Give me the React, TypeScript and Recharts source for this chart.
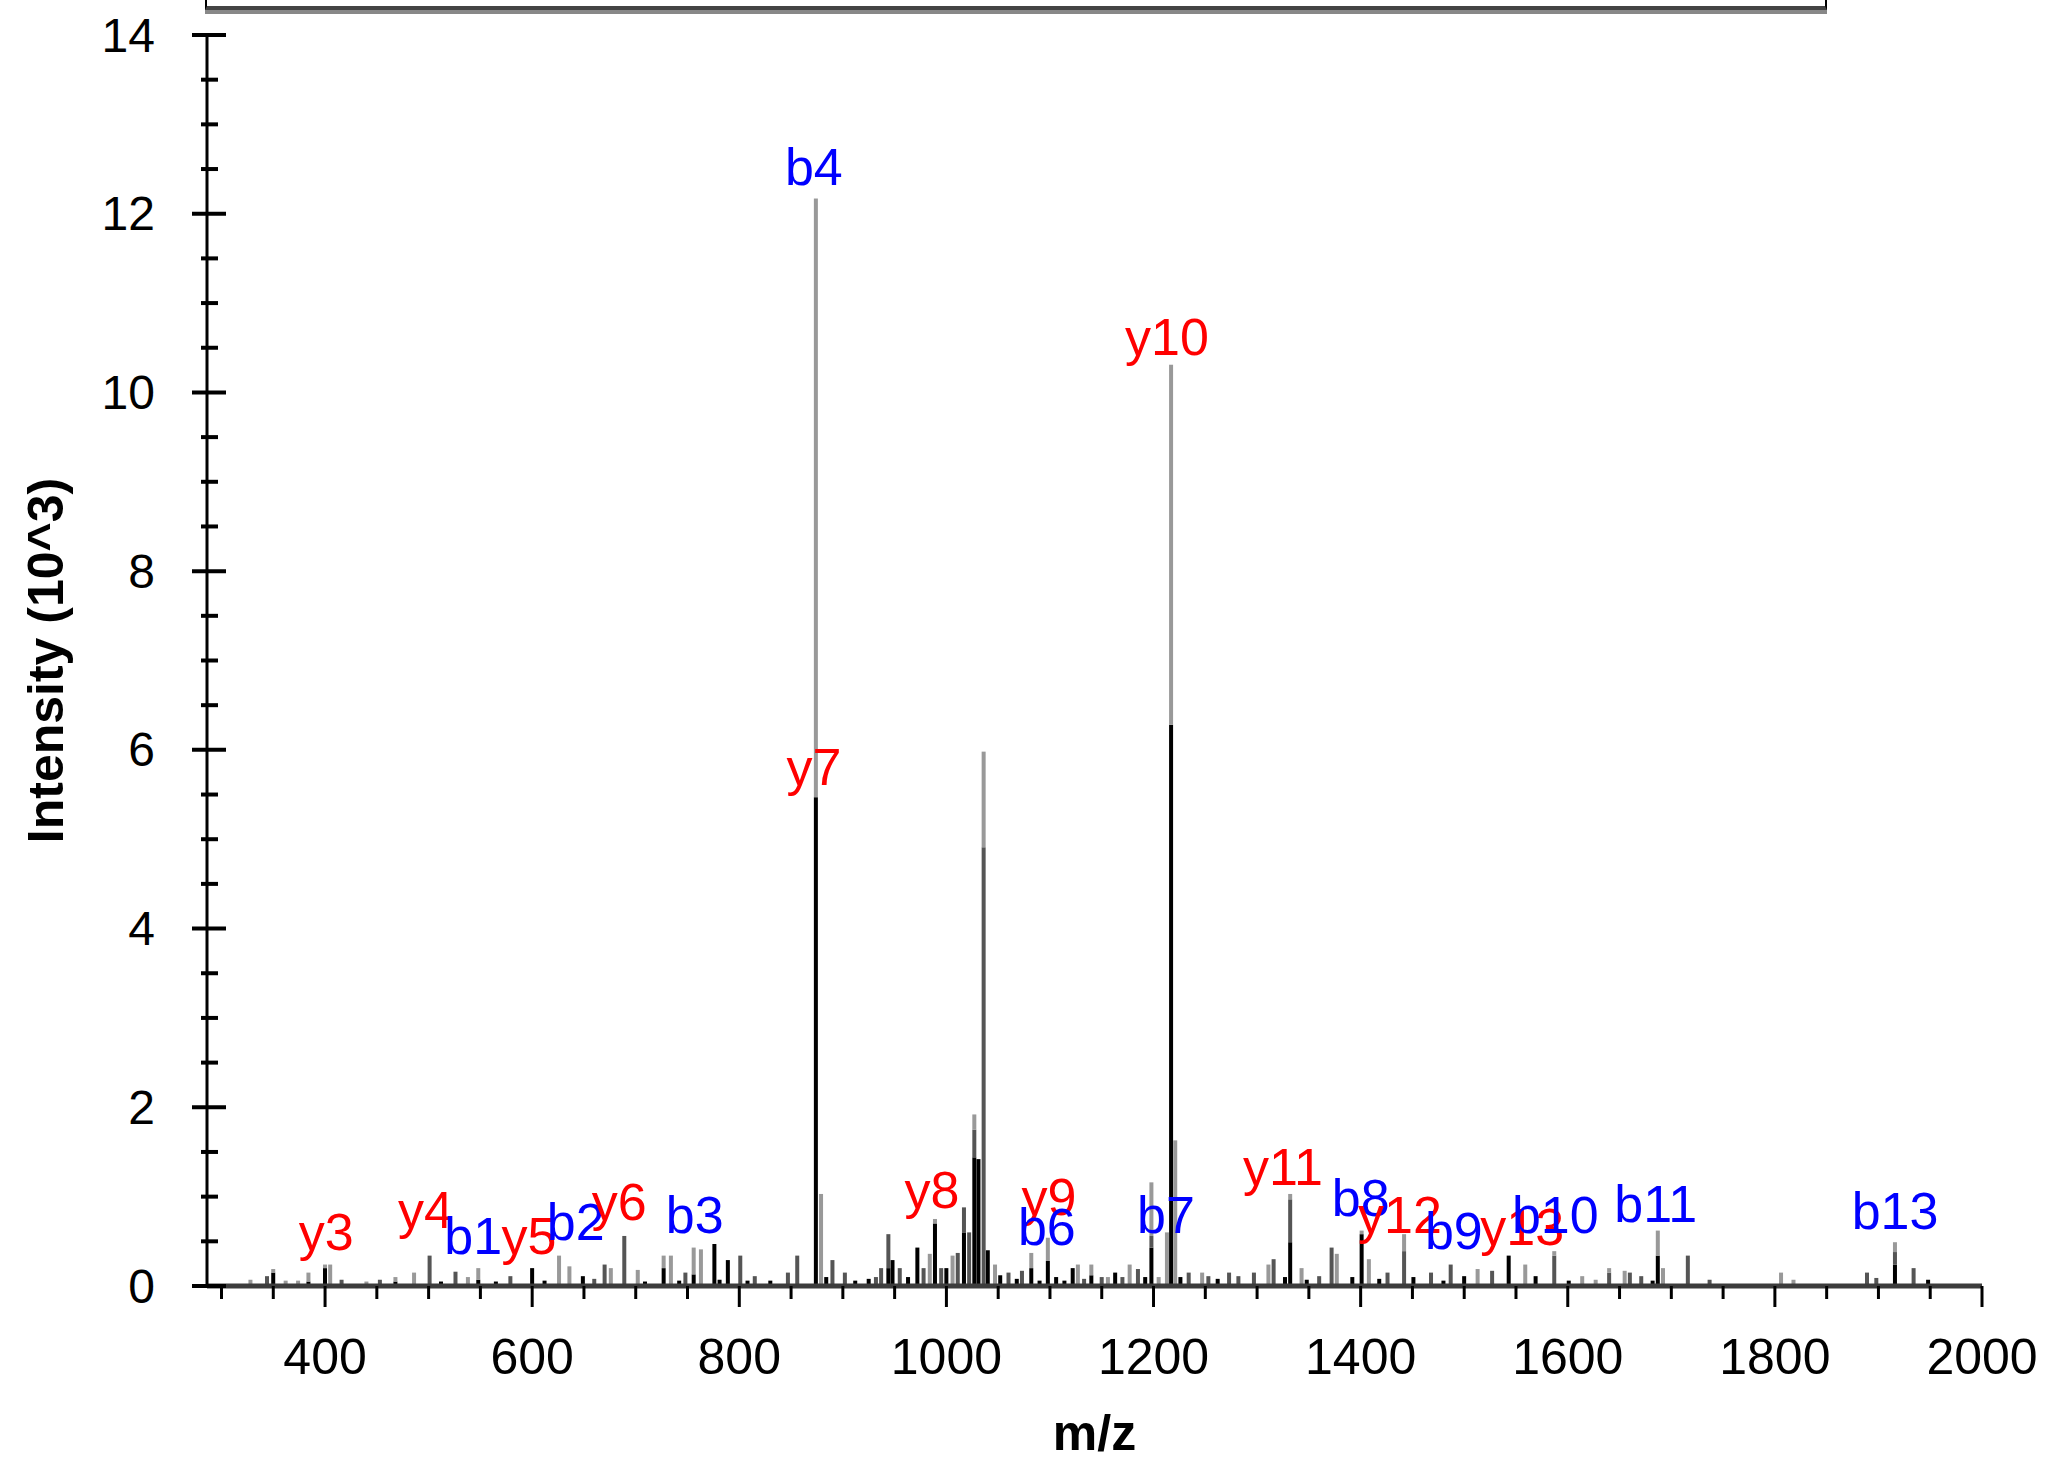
import React from "react";
import { ComposedChart, Bar, Scatter, XAxis, YAxis } from "recharts";

const FONT = '"Liberation Sans", Arial, sans-serif';

// axis ticks
const xTicks = [
  300, 350, 400, 450, 500, 550, 600, 650, 700, 750, 800, 850, 900, 950, 1000, 1050, 1100, 1150,
  1200, 1250, 1300, 1350, 1400, 1450, 1500, 1550, 1600, 1650, 1700, 1750, 1800, 1850, 1900, 1950, 2000,
];
const xMajor = [400, 600, 800, 1000, 1200, 1400, 1600, 1800, 2000];
const yTicks = [
  0, 0.5, 1, 1.5, 2, 2.5, 3, 3.5, 4, 4.5, 5, 5.5, 6, 6.5, 7, 7.5, 8, 8.5, 9, 9.5, 10, 10.5, 11, 11.5,
  12, 12.5, 13, 13.5, 14,
];
const yMajor = [0, 2, 4, 6, 8, 10, 12, 14];

// peaks [m/z, intensity (10^3)], one list per shade of the stick
const blackPeaks = [
  [350, 0.15], [384, 0.05], [400, 0.2], [468, 0.05], [512, 0.05], [548, 0.07], [565, 0.05], [600, 0.2],
  [612, 0.06], [649, 0.11], [709, 0.05], [727, 0.2], [742, 0.06], [756, 0.13], [776, 0.47], [781, 0.07],
  [789, 0.29], [808, 0.06], [830, 0.06], [874, 5.47], [884, 0.1], [912, 0.06], [925, 0.08], [944, 0.2],
  [948, 0.29], [963, 0.1], [972, 0.43], [989, 0.7], [1000, 0.2], [1017, 0.6], [1027, 1.44], [1031, 1.42],
  [1040, 0.4], [1052, 0.12], [1068, 0.08], [1082, 0.2], [1090, 0.06], [1098, 0.28], [1106, 0.1],
  [1114, 0.06], [1122, 0.2], [1140, 0.12], [1163, 0.15], [1192, 0.1], [1198, 0.43], [1217, 6.28],
  [1226, 0.1], [1262, 0.08], [1327, 0.1], [1332, 0.49], [1348, 0.07], [1392, 0.1], [1401, 0.58],
  [1418, 0.08], [1451, 0.1], [1480, 0.06], [1500, 0.11], [1543, 0.34], [1569, 0.11], [1601, 0.06],
  [1682, 0.06], [1687, 0.34], [1916, 0.24], [1948, 0.07],
];
const darkPeaks = [
  [344, 0.11], [416, 0.07], [453, 0.07], [501, 0.34], [526, 0.16], [579, 0.11], [660, 0.08], [670, 0.24],
  [689, 0.56], [748, 0.15], [801, 0.34], [815, 0.11], [847, 0.15], [856, 0.34], [890, 0.29], [902, 0.15],
  [932, 0.1], [937, 0.2], [944, 0.58], [955, 0.2], [978, 0.2], [995, 0.2], [1011, 0.37], [1017, 0.88],
  [1022, 0.6], [1027, 1.75], [1036, 4.91], [1060, 0.15], [1073, 0.17], [1133, 0.08], [1150, 0.1],
  [1170, 0.1], [1185, 0.19], [1198, 0.56], [1234, 0.15], [1253, 0.11], [1273, 0.15], [1282, 0.11],
  [1297, 0.15], [1316, 0.3], [1332, 0.97], [1360, 0.11], [1372, 0.43], [1426, 0.15], [1442, 0.39],
  [1468, 0.15], [1487, 0.24], [1527, 0.17], [1587, 0.34], [1640, 0.15], [1660, 0.15], [1671, 0.11],
  [1716, 0.34], [1737, 0.07], [1889, 0.15], [1898, 0.09], [1916, 0.38], [1934, 0.2],
];
const lightPeaks = [
  [328, 0.07], [350, 0.19], [362, 0.06], [374, 0.06], [384, 0.15], [400, 0.24], [405, 0.24], [440, 0.05],
  [468, 0.1], [486, 0.15], [538, 0.1], [548, 0.2], [626, 0.34], [636, 0.22], [676, 0.2], [702, 0.18],
  [727, 0.34], [734, 0.34], [756, 0.43], [763, 0.41], [874, 12.17], [879, 1.03], [984, 0.36], [989, 0.75],
  [1006, 0.34], [1027, 1.92], [1036, 5.98], [1047, 0.24], [1082, 0.37], [1098, 0.54], [1127, 0.24],
  [1140, 0.24], [1156, 0.1], [1177, 0.24], [1198, 1.16], [1205, 0.1], [1213, 0.6], [1217, 10.31],
  [1221, 1.63], [1247, 0.15], [1311, 0.24], [1332, 1.03], [1343, 0.2], [1377, 0.36], [1401, 0.62],
  [1408, 0.3], [1442, 0.58], [1513, 0.19], [1559, 0.24], [1587, 0.39], [1614, 0.11], [1627, 0.07],
  [1640, 0.2], [1655, 0.17], [1687, 0.62], [1692, 0.2], [1806, 0.15], [1818, 0.07], [1916, 0.49],
];

// fragment ion annotations (text baseline position)
const ionNames = ["y3", "y4", "b1", "y5", "b2", "y6", "b3", "y7", "b4", "y8", "y9", "b6", "b7", "y10", "y11", "b8", "y12", "b9", "y13", "b10", "b11", "b13"];
const ionMz = [401, 497, 543, 597, 642, 684, 757, 872, 872, 986, 1099, 1097, 1212, 1213, 1325, 1400, 1438, 1490, 1556, 1588, 1685, 1916];
const ionLevel = [0.4, 0.65, 0.36, 0.36, 0.51, 0.74, 0.59, 5.61, 12.32, 0.87, 0.79, 0.46, 0.59, 10.42, 1.13, 0.78, 0.59, 0.41, 0.46, 0.59, 0.72, 0.64];

const heightAt = (list: number[][], mz: number) => {
  const hit = list.find((p) => p[0] === mz);
  return hit ? hit[1] : 0;
};

const allMz = Array.from(new Set([...blackPeaks, ...darkPeaks, ...lightPeaks].map((p) => p[0]))).sort((a, b) => a - b);

const peakRows = allMz.map((mz) => {
  const b = heightAt(blackPeaks, mz);
  const d = heightAt(darkPeaks, mz);
  const l = heightAt(lightPeaks, mz);
  return {
    mz,
    black: b,
    dark: Math.max(0, d - b),
    light: Math.max(0, l - Math.max(b, d)),
  };
});

const ionRows = ionNames.map((name, i) => ({ name, mz: ionMz[i], level: ionLevel[i] }));

// sticks: keep the bar's centre and height, draw it 4px wide
function Stick(props: any) {
  const { x, y, width, height, fill } = props;
  if (!height || height <= 0 || x == null) return null;
  const cx = x + width / 2;
  return <rect x={cx - 2} y={y} width={4} height={height} fill={fill} />;
}

function BottomTick(props: any) {
  const { x, y, payload } = props;
  const major = xMajor.includes(payload.value);
  return (
    <g>
      <line x1={x} x2={x} y1={y} y2={y + (major ? 21 : 13)} stroke="#000" strokeWidth={3} />
      {major && (
        <text x={x} y={y + 88} textAnchor="middle" fontSize={50} fontFamily={FONT} fill="#000">
          {payload.value}
        </text>
      )}
    </g>
  );
}

function TopTick(props: any) {
  const { x, y, payload } = props;
  const major = xMajor.includes(payload.value);
  return <line x1={x} x2={x} y1={y} y2={y + (major ? 20 : 12)} stroke="#000" strokeWidth={3} />;
}

function LeftTick(props: any) {
  const { x, y, payload } = props;
  const major = yMajor.includes(payload.value);
  return (
    <g>
      <line x1={major ? x - 15 : x - 6} x2={major ? x + 19 : x + 11} y1={y} y2={y} stroke="#000" strokeWidth={4} />
      {major && (
        <text x={x - 52} y={y} textAnchor="end" dominantBaseline="central" fontSize={48} fontFamily={FONT} fill="#000">
          {payload.value}
        </text>
      )}
    </g>
  );
}

function RightTick(props: any) {
  const { x, y, payload } = props;
  const major = yMajor.includes(payload.value);
  return <line x1={x - (major ? 17 : 9)} x2={x} y1={y} y2={y} stroke="#000" strokeWidth={4} />;
}

function IonText(props: any) {
  const { cx, cy, payload } = props;
  if (cx == null || cy == null) return null;
  const color = payload.name.startsWith("y") ? "#ff0000" : "#0000ff";
  return (
    <text x={cx} y={cy} textAnchor="middle" fontSize={52} fontFamily={FONT} fill={color}>
      {payload.name}
    </text>
  );
}

export default function App() {
  return (
    <div
      style={{
        position: "absolute",
        left: 0,
        top: 0,
        width: 2051,
        height: 1458,
        overflow: "hidden",
        background: "#fff",
      }}
    >
      {/* title box, only its lower edge is inside the picture */}
      <div
        style={{
          position: "absolute",
          left: 205,
          top: -4,
          width: 1618,
          height: 10,
          borderLeft: "2px solid #000",
          borderRight: "2px solid #000",
          borderBottom: "4px solid #444",
          boxShadow: "0 4px 0 #888",
        }}
      />
      <ComposedChart
        width={2051}
        height={1458}
        data={peakRows}
        margin={{ top: 35, right: 69, bottom: 0, left: 0 }}
      >
        <XAxis
          dataKey="mz"
          type="number"
          domain={[286, 2000]}
          allowDataOverflow
          ticks={xTicks}
          interval={0}
          height={172}
          tickSize={0}
          tickMargin={0}
          tickLine={false}
          axisLine={{ stroke: "#3c3c3c", strokeWidth: 5 }}
          tick={<BottomTick />}
          label={{
            content: (p: any) => {
              const vb = p.viewBox || { x: 207, y: 1286, width: 1775, height: 172 };
              return (
                <text
                  x={vb.x + vb.width / 2}
                  y={vb.y + vb.height - 8}
                  textAnchor="middle"
                  fontSize={50}
                  fontWeight="bold"
                  fontFamily={FONT}
                  fill="#000"
                >
                  m/z
                </text>
              );
            },
          }}
        />
        <XAxis
          xAxisId="t"
          orientation="top"
          dataKey="mz"
          type="number"
          domain={[286, 2000]}
          allowDataOverflow
          ticks={xTicks}
          interval={0}
          height={0}
          tickSize={0}
          tickMargin={0}
          tickLine={false}
          axisLine={{ stroke: "#555", strokeWidth: 5 }}
          tick={<TopTick />}
        />
        <YAxis
          type="number"
          domain={[0, 14]}
          allowDataOverflow
          ticks={yTicks}
          interval={0}
          width={207}
          tickSize={0}
          tickMargin={0}
          tickLine={false}
          axisLine={{ stroke: "#000", strokeWidth: 3 }}
          tick={<LeftTick />}
          label={{
            content: (p: any) => {
              const vb = p.viewBox || { x: 0, y: 35, width: 207, height: 1251 };
              const cy = vb.y + vb.height / 2;
              return (
                <text
                  x={46}
                  y={cy}
                  transform={`rotate(-90 46 ${cy})`}
                  textAnchor="middle"
                  dominantBaseline="central"
                  fontSize={50}
                  fontWeight="bold"
                  fontFamily={FONT}
                  fill="#000"
                >
                  Intensity (10^3)
                </text>
              );
            },
          }}
        />
        <YAxis
          yAxisId="r"
          orientation="right"
          type="number"
          domain={[0, 14]}
          allowDataOverflow
          ticks={yTicks}
          interval={0}
          width={0}
          tickSize={0}
          tickMargin={0}
          tickLine={false}
          axisLine={{ stroke: "#000", strokeWidth: 3 }}
          tick={<RightTick />}
        />
        <Bar dataKey="black" stackId="p" fill="#000" barSize={4} shape={(p: any) => <Stick {...p} />} isAnimationActive={false} />
        <Bar dataKey="dark" stackId="p" fill="#555" barSize={4} shape={(p: any) => <Stick {...p} />} isAnimationActive={false} />
        <Bar dataKey="light" stackId="p" fill="#999" barSize={4} shape={(p: any) => <Stick {...p} />} isAnimationActive={false} />
        <Scatter data={ionRows} dataKey="level" shape={(p: any) => <IonText {...p} />} isAnimationActive={false} />
      </ComposedChart>
    </div>
  );
}
